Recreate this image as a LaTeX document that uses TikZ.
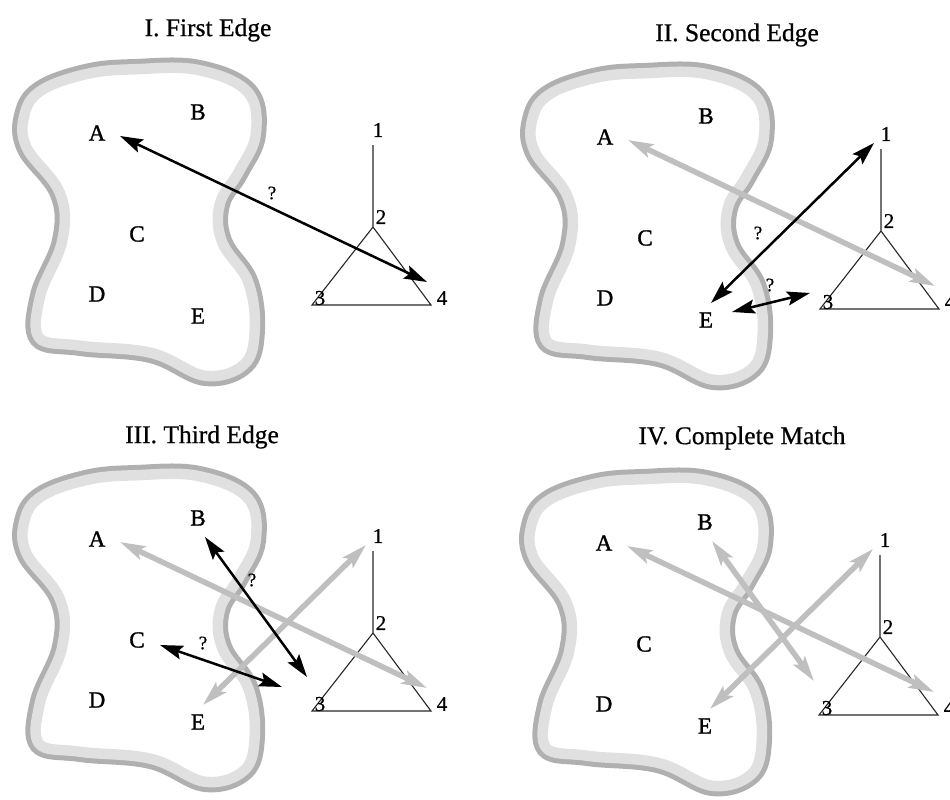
\documentclass[tikz,border=0pt]{standalone}
\usepackage{fontspec}
\setmainfont{Liberation Serif}
\newfontfamily\heavyserif[FakeBold=1.3]{Liberation Serif}
\newfontfamily\midserif[FakeBold=0.7]{Liberation Serif}
\usetikzlibrary{arrows.meta}
\tikzset{
  lab/.style={inner sep=0pt, font=\heavyserif\fontsize{23}{26}\selectfont},
  num/.style={inner sep=0pt, font=\midserif\fontsize{21}{24}\selectfont},
  ttl/.style={inner sep=0pt, font=\midserif\fontsize{25.5}{28}\selectfont},
  qm/.style={inner sep=0pt, font=\midserif\fontsize{19}{22}\selectfont},
  treeline/.style={line width=1.1pt, black!85},
  blk/.style={line width=2.5pt, black,
    {Stealth[length=23pt,width=14pt,inset=4pt]}-{Stealth[length=23pt,width=14pt,inset=4pt]}},
  gry/.style={line width=5.5pt, gray!50,
    {Stealth[length=25pt,width=14pt,inset=5pt]}-{Stealth[length=25pt,width=14pt,inset=5pt]}},
}
\def\blobpath{plot[smooth cycle, tension=0.65] coordinates {(135,64) (200,65) (252,89) (261,135) (243,175) (225,205) (227,240) (253,280) (260,330) (248,368) (205,381) (150,358) (80,351) (35,341) (35,295) (57,240) (55,195) (22,150) (19,115) (37,87) (85,69)}}
\newcommand\drawpanelbase{%
  \draw[line width=10pt, gray!62] \blobpath;
  \begin{scope}
    \clip \blobpath;
    \draw[line width=21pt, gray!24] \blobpath;
  \end{scope}
  \node[lab] (A) at (97,133) {A};
  \node[lab] (B) at (198,112) {B};
  \node[lab] (C) at (137,234) {C};
  \node[lab] (D) at (97,294) {D};
  \node[lab] (E) at (198,316) {E};
  \coordinate (t1) at (373,145);
  \coordinate (t2) at (373,227);
  \coordinate (t3) at (312,305);
  \coordinate (t4) at (431,305);
  \draw[treeline] (t1) -- (t2) -- (t3) -- (t4) -- (t2);
  \node[num] (n1) at (378,130) {1};
  \node[num] (n2) at (381,217) {2};
  \node[num] (n3) at (320,298) {3};
  \node[num] (n4) at (442,298) {4};
  \coordinate (aA) at (120,136);
  \coordinate (a4) at (427,282);
  \coordinate (aE1) at (203,299);
  \coordinate (a1) at (366,139);
  \coordinate (aE3) at (224,308);
  \coordinate (a3s) at (302,289);
  \coordinate (aB) at (205,131);
  \coordinate (a3b) at (307,271);
  \coordinate (aC) at (160,239);
  \coordinate (a3c) at (282,281);
}
\begin{document}
\begin{tikzpicture}[x=1pt,y=-1pt]
\useasboundingbox (0,0) rectangle (950,800);
\node[ttl] (t-I) at (208,30) {I. First Edge};
\node[ttl] (t-II) at (737,35) {II. Second Edge};
\node[ttl] (t-III) at (202,437) {III. Third Edge};
\node[ttl] (t-IV) at (742,438) {IV. Complete Match};
% Panel I
\begin{scope}[name prefix=p1-]
  \drawpanelbase
  \draw[blk] (aA) -- (a4);
  \node[qm] (q) at (272,193) {?};
\end{scope}
% Panel II
\begin{scope}[shift={(508,4)}, name prefix=p2-]
  \drawpanelbase
  \draw[gry] (aA) -- (a4);
  \draw[blk] (aE1) -- (a1);
  \draw[blk] (aE3) -- (a3s);
  \node[qm] (q1) at (250,229) {?};
  \node[qm] (q2) at (262,281) {?};
\end{scope}
% Panel III
\begin{scope}[shift={(0,406)}, name prefix=p3-]
  \drawpanelbase
  \draw[gry] (aA) -- (a4);
  \draw[gry] (aE1) -- (a1);
  \draw[blk] (aB) -- (a3b);
  \draw[blk] (aC) -- (a3c);
  \node[qm] (q1) at (252,174) {?};
  \node[qm] (q2) at (203,237) {?};
\end{scope}
% Panel IV
\begin{scope}[shift={(507,410)}, name prefix=p4-]
  \drawpanelbase
  \draw[gry] (aA) -- (a4);
  \draw[gry] (aE1) -- (a1);
  \draw[gry] (aB) -- (a3b);
\end{scope}
\end{tikzpicture}
\end{document}
